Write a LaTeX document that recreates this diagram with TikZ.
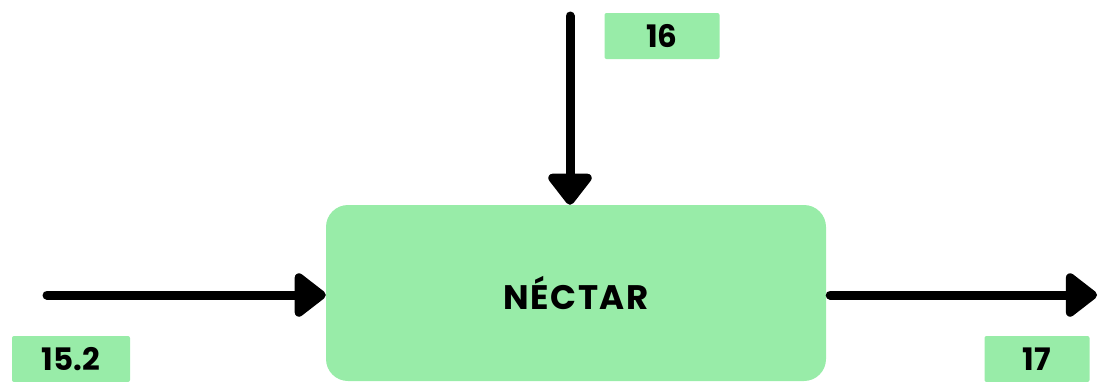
\documentclass[tikz,border=0pt]{standalone}
\usepackage{fontspec}
\setmainfont{Poppins}
\usepackage{tikz}
\usetikzlibrary{positioning, arrows.meta}
\definecolor{nectargreen}{HTML}{98ECA8}

\begin{document}
\begin{tikzpicture}[
    x=1pt, y=-1pt,
    >={Triangle[round, length=34pt, width=50pt]},
    flow/.style={->, line width=9pt, line cap=round},
    process/.style={fill=nectargreen, rounded corners=22pt, minimum width=500pt,
        minimum height=176pt, font=\bfseries\fontsize{34}{38}\selectfont},
    tag/.style={fill=nectargreen, rounded corners=2pt, inner sep=0pt,
        minimum height=46pt, font=\bfseries\fontsize{31}{34}\selectfont}
]
\useasboundingbox (0,0) rectangle (1098,381);

% 过程节点
\node[process] (nectar) at (576,293) {\addfontfeatures{LetterSpace=5}NÉCTAR};

% 端点
\coordinate (srcTop) at (570,16);
\coordinate (srcLeft) at (47,295);
\coordinate (sinkRight) at (1097,295);

% 标签
\node[tag, minimum width=115pt] (tagTop) at (662,36) {16};
\node[tag, minimum width=118pt] (tagLeft) at (71,359) {15.2};
\node[tag, minimum width=105pt] (tagRight) at (1037,359) {17};

% 流向
\draw[flow] (srcTop) -- (srcTop |- nectar.north);
\draw[flow] (srcLeft) -- (srcLeft -| nectar.west);
\draw[flow, shorten <=4pt] (nectar.east |- sinkRight) -- (sinkRight);

\end{tikzpicture}
\end{document}
